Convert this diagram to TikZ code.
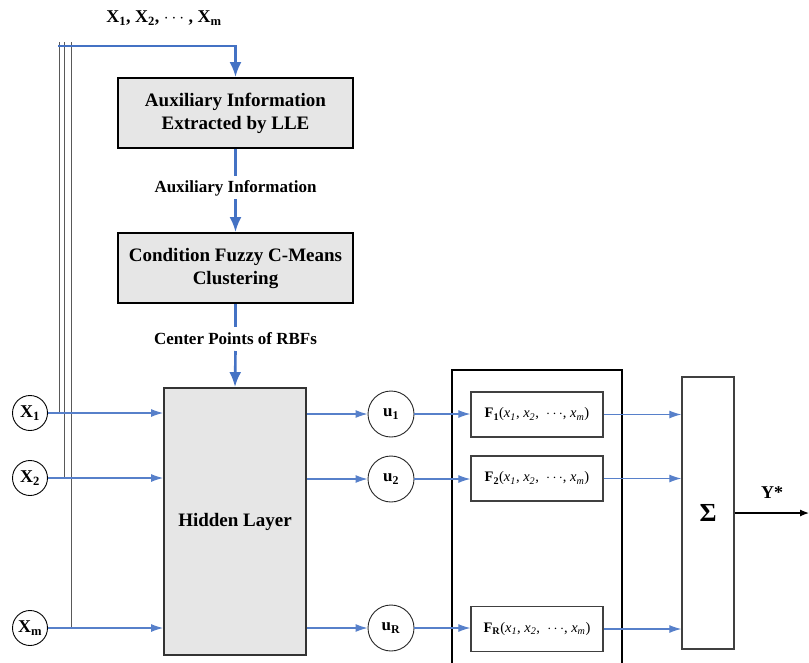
\documentclass[tikz,border=0pt]{standalone}
\usepackage{fontspec}
\setmainfont{Liberation Serif}
\usetikzlibrary{arrows.meta}
\definecolor{flow}{RGB}{68,114,196}
\definecolor{boxfill}{RGB}{230,230,230}
\begin{document}
\begin{tikzpicture}[x=1pt,y=-1pt,
  procbox/.style={draw=black,line width=1.8pt,fill=boxfill,align=center,
    font=\fontsize{19}{23}\selectfont\bfseries,inner sep=0pt},
  inpt/.style={circle,draw=black,line width=0.9pt,minimum size=35pt,inner sep=0pt,
    font=\fontsize{18}{20}\selectfont\bfseries},
  unode/.style={circle,draw=black!85,line width=0.9pt,minimum size=46pt,inner sep=0pt,
    font=\fontsize{17}{19}\selectfont\bfseries},
  fbox/.style={draw=black!75,line width=1.3pt,minimum width=132pt,minimum height=45pt,
    inner sep=0pt,font=\fontsize{14.5}{16}\selectfont},
  bigflow/.style={draw=flow,line width=2.6pt,-{Latex[length=15pt,width=12pt]}},
  thinflow/.style={draw=flow!90,line width=1.2pt,-{Latex[length=12pt,width=8pt]}},
  tap/.style={draw=black!65,line width=0.8pt},
  lbl/.style={font=\fontsize{17}{19}\selectfont\bfseries,fill=white,inner sep=1pt}
]
\useasboundingbox (0,0) rectangle (809,662);

% input vector label
\node[font=\fontsize{18}{20}\selectfont\bfseries] (inlabel) at (164,18)
  {X\textsubscript{1}, X\textsubscript{2}, $\cdots$ , X\textsubscript{m}};

% processing boxes
\node[procbox,minimum width=235pt,minimum height=70pt] (lle) at (235.5,113)
  {Auxiliary Information\\Extracted by LLE};
\node[procbox,minimum width=235pt,minimum height=70pt] (fcm) at (235.5,268)
  {Condition Fuzzy C-Means\\Clustering};
\node[procbox,draw=black!80,minimum width=142pt,minimum height=267pt] (hidden) at (235,521.5)
  {Hidden Layer};

% input nodes
\node[inpt] (x1) at (30,413) {X\textsubscript{1}};
\node[inpt] (x2) at (30,478) {X\textsubscript{2}};
\node[inpt] (xm) at (30,628) {X\textsubscript{m}};

% hidden outputs
\node[unode] (u1) at (391,414) {u\textsubscript{1}};
\node[unode] (u2) at (391,479) {u\textsubscript{2}};
\node[unode] (ur) at (391,628) {u\textsubscript{R}};

% rule frame and consequent functions
\node[draw=black,line width=1.8pt,minimum width=170pt,minimum height=320pt,inner sep=0pt] (frame) at (537,530) {};
\node[fbox] (f1) at (537,414.5) {\textbf{F\textsubscript{1}}(\textit{x\textsubscript{1}}, \textit{x\textsubscript{2}}, \ $\cdots$, \textit{x\textsubscript{m}})};
\node[fbox] (f2) at (537,478.5) {\textbf{F\textsubscript{2}}(\textit{x\textsubscript{1}}, \textit{x\textsubscript{2}}, \ $\cdots$, \textit{x\textsubscript{m}})};
\node[fbox] (fr) at (537,629) {\textbf{F\textsubscript{R}}(\textit{x\textsubscript{1}}, \textit{x\textsubscript{2}}, \ $\cdots$, \textit{x\textsubscript{m}})};

% summation
\node[draw=black!75,line width=1.3pt,minimum width=52pt,minimum height=272pt,inner sep=0pt,
  font=\fontsize{26}{28}\selectfont\bfseries] (sum) at (708,513) {Σ};
\coordinate (yout) at (809,513);
\node[font=\fontsize{18}{20}\selectfont\bfseries] (ylabel) at (772,493) {Y*};

% taps from the inputs up to the top bus
\coordinate (busstart) at (58,46);
\coordinate (t1) at (59,42);
\coordinate (t2) at (64,42);
\coordinate (t3) at (71,42);
\draw[tap] (t1) -- (t1 |- x1);
\draw[tap] (t2) -- (t2 |- x2);
\draw[tap] (t3) -- (t3 |- xm);

% top flow
\draw[bigflow] (busstart) -- (busstart -| lle.north) -- (lle.north);
\draw[draw=flow,line width=2.6pt] (lle.south) -- (235.5,176);
\node[lbl] (auxlbl) at (235.5,188) {Auxiliary Information};
\draw[bigflow] (235.5,199) -- (fcm.north);
\draw[draw=flow,line width=2.6pt] (fcm.south) -- (235.5,327);
\node[lbl] (cplbl) at (235.5,339) {Center Points of RBFs};
\draw[bigflow] (235.5,351) -- (hidden.north);

% inputs to hidden layer
\draw[thinflow] (x1.east) -- (x1.east -| hidden.west);
\draw[thinflow] (x2.east) -- (x2.east -| hidden.west);
\draw[thinflow] (xm.east) -- (xm.east -| hidden.west);

% hidden layer to u nodes
\draw[thinflow] (hidden.east |- u1) -- (u1.west);
\draw[thinflow] (hidden.east |- u2) -- (u2.west);
\draw[thinflow] (hidden.east |- ur) -- (ur.west);

% u nodes to functions
\draw[thinflow] (u1.east) -- (f1.west |- u1);
\draw[thinflow] (u2.east) -- (f2.west |- u2);
\draw[thinflow] (ur.east) -- (fr.west |- ur);

% functions to summation
\draw[thinflow] (f1.east) -- (f1.east -| sum.west);
\draw[thinflow] (f2.east) -- (f2.east -| sum.west);
\draw[thinflow] (fr.east) -- (fr.east -| sum.west);

% output
\draw[black,line width=1.2pt,-{Latex[length=9pt,width=7pt]}] (sum.east |- yout) -- (yout);
\end{tikzpicture}
\end{document}
